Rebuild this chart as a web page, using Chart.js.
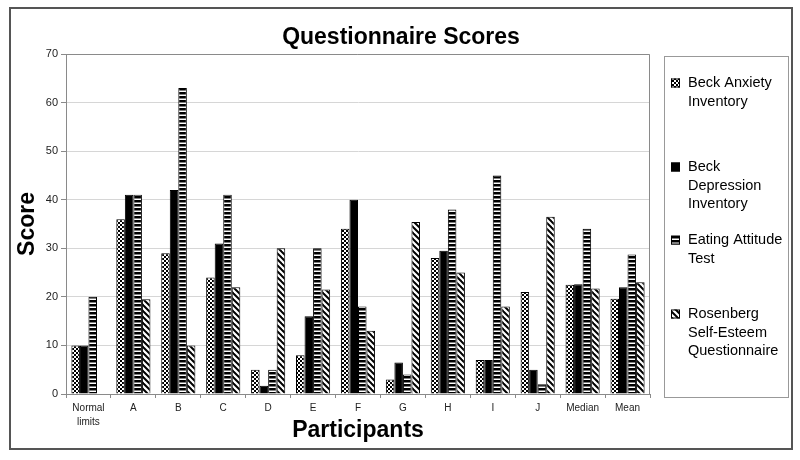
<!DOCTYPE html>
<html>
<head>
<meta charset="utf-8">
<script src="https://cdn.jsdelivr.net/npm/chart.js@4.4.1/dist/chart.umd.min.js"></script>
<style>
html, body { margin: 0; padding: 0; background: #fff; }
canvas { display: block; }
</style>
</head>
<body>
<canvas id="myChart" width="800" height="460"></canvas>
<script>
const chartTitle = 'Questionnaire Scores';
const participants = [['Normal', 'limits'], 'A', 'B', 'C', 'D', 'E', 'F', 'G', 'H', 'I', 'J', 'Median', 'Mean'];
const seriesLabels = [
    ['Beck Anxiety', 'Inventory'],
    ['Beck', 'Depression', 'Inventory'],
    ['Eating Attitude', 'Test'],
    ['Rosenberg', 'Self-Esteem', 'Questionnaire']
];
const beckAnxiety    = [10, 36, 29, 24, 5,   8,   34, 3,    28,   7,  21,   22.5, 19.6];
const beckDepression = [10, 41, 42, 31, 1.7, 16,  40, 6.5,  29.5, 7,  5,    22.6, 22];
const eatingAttitude = [20, 41, 63, 41, 5,   30,  18, 4,    38,   45, 2,    34,   28.7];
const rosenberg      = [null, 19.5, 10, 22, 30, 21.5, 13, 35.4, 25, 18, 36.5, 21.7, 23];
const yTicks = [0, 10, 20, 30, 40, 50, 60, 70];

const ctx = document.getElementById('myChart').getContext('2d');

// fill patterns for the black and white bars
function makePattern(w, h, draw) {
    const c = document.createElement('canvas');
    c.width = w; c.height = h;
    const g = c.getContext('2d');
    g.fillStyle = '#fff';
    g.fillRect(0, 0, w, h);
    g.fillStyle = '#000';
    g.strokeStyle = '#000';
    draw(g);
    return ctx.createPattern(c, 'repeat');
}
const checker = makePattern(4, 4, g => { g.fillRect(0, 0, 2, 2); g.fillRect(2, 2, 2, 2); });
const hStripes = makePattern(4, 4, g => { g.fillRect(0, 0, 4, 2.5); });
const diagonal = makePattern(6, 6, g => {
    g.lineWidth = 2;
    [-6, 0, 6].forEach(k => { g.beginPath(); g.moveTo(k - 1, -1); g.lineTo(k + 7, 7); g.stroke(); });
});
const fills = [checker, '#000', hStripes, diagonal];

const chrome = {
    id: 'chrome',
    beforeDraw(chart) {
        const c = chart.ctx;
        c.save();
        c.fillStyle = '#fff';
        c.fillRect(0, 0, chart.width, chart.height);
        c.strokeStyle = '#555';
        c.lineWidth = 2;
        c.strokeRect(10, 8, 782, 441);
        c.restore();
    },
    beforeDatasetsDraw(chart) {
        const a = chart.chartArea;
        const c = chart.ctx;
        c.save();
        c.strokeStyle = '#8a8a8a';
        c.lineWidth = 1;
        c.beginPath();
        c.moveTo(a.left, a.top + 0.5);
        c.lineTo(a.right - 0.5, a.top + 0.5);
        c.lineTo(a.right - 0.5, a.bottom);
        c.stroke();
        c.restore();
    },
    afterDraw(chart) {
        const c = chart.ctx;
        c.save();
        // title
        c.fillStyle = '#000';
        c.font = 'bold 23px "Liberation Sans", Arial, sans-serif';
        c.textAlign = 'center';
        c.textBaseline = 'middle';
        c.fillText(chartTitle, 401, 38);
        // legend
        c.strokeStyle = '#999';
        c.lineWidth = 1;
        c.strokeRect(664.5, 56.5, 124, 341);
        const firstLine = [83, 167, 240, 314];
        c.font = '14.5px "Liberation Sans", Arial, sans-serif';
        c.textAlign = 'left';
        chart.data.datasets.forEach((ds, i) => {
            const y = firstLine[i];
            c.fillStyle = ds.backgroundColor;
            c.fillRect(671, y - 4.5, 9, 9);
            c.strokeStyle = '#000';
            c.strokeRect(671.5, y - 4, 8, 8);
            c.fillStyle = '#000';
            seriesLabels[i].forEach((line, j) => c.fillText(line, 688, y + j * 18.7));
        });
        c.restore();
    }
};

var myChart = new Chart(ctx, {
    type: 'bar',
    data: {
        labels: participants,
        datasets: [beckAnxiety, beckDepression, eatingAttitude, rosenberg].map((values, i) => ({
            label: seriesLabels[i].join(' '),
            data: values,
            backgroundColor: fills[i],
            borderColor: '#000',
            borderWidth: 1,
            categoryPercentage: 0.76,
            barPercentage: 1.0
        }))
    },
    options: {
        responsive: false,
        animation: false,
        devicePixelRatio: 1,
        layout: { padding: { left: 12, right: 150, top: 54, bottom: 14 } },
        plugins: {
            legend: { display: false },
            tooltip: { enabled: false }
        },
        scales: {
            x: {
                grid: { offset: true, drawOnChartArea: false, tickLength: 4, tickColor: '#8a8a8a' },
                border: { color: '#8a8a8a' },
                ticks: {
                    color: '#222',
                    padding: 3,
                    maxRotation: 0,
                    autoSkip: false,
                    font: { family: '"Liberation Sans", Arial, sans-serif', size: 10, lineHeight: 1.4 }
                },
                title: {
                    display: true,
                    text: 'Participants',
                    color: '#000',
                    padding: { top: 0, bottom: 2 },
                    font: { family: '"Liberation Sans", Arial, sans-serif', size: 23, weight: 'bold' }
                },
                afterFit(s) { s.height = 52; }
            },
            y: {
                min: yTicks[0],
                max: yTicks[yTicks.length - 1],
                afterBuildTicks(s) { s.ticks = yTicks.map(v => ({ value: v })); },
                grid: { color: '#d6d6d6', tickLength: 5, tickColor: '#8a8a8a' },
                border: { color: '#8a8a8a' },
                ticks: {
                    color: '#222',
                    padding: 3,
                    font: { family: '"Liberation Sans", Arial, sans-serif', size: 11 }
                },
                title: {
                    display: true,
                    text: 'Score',
                    color: '#000',
                    padding: { top: 2, bottom: 0 },
                    font: { family: '"Liberation Sans", Arial, sans-serif', size: 23, weight: 'bold' }
                },
                afterFit(s) { s.width = 54; }
            }
        }
    },
    plugins: [chrome]
});
</script>
</body>
</html>
